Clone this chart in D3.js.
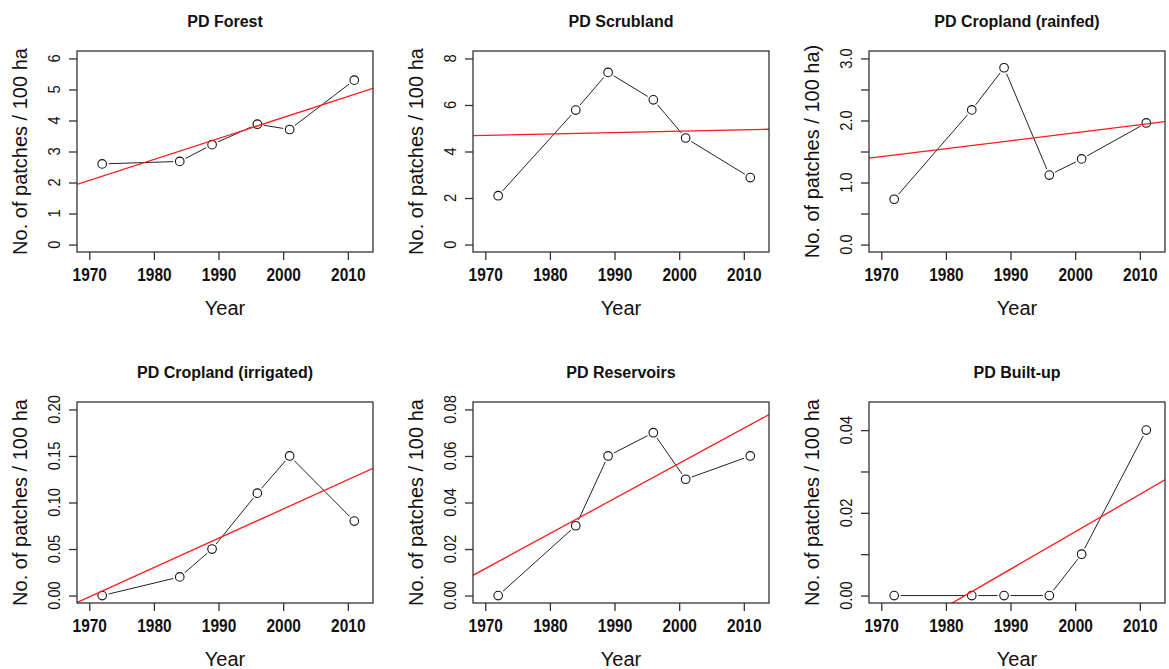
<!DOCTYPE html>
<html>
<head>
<meta charset="utf-8">
<script src="https://cdn.jsdelivr.net/npm/d3@7"></script>
<style>
  body { margin: 0; background: #fff; }
  svg { display: block; }
</style>
</head>
<body>
<div id="chart"></div>
<script>
const years = [1972, 1984, 1989, 1996, 2001, 2011];

const pdForest = [2.6, 2.68, 3.22, 3.88, 3.71, 5.3];
const pdScrubland = [2.1, 5.78, 7.4, 6.22, 4.58, 2.88];
const pdRainfed = [0.73, 2.17, 2.85, 1.12, 1.38, 1.96];
const pdIrrigated = [0.0, 0.02, 0.05, 0.11, 0.15, 0.08];
const pdReservoirs = [0.0, 0.03, 0.06, 0.07, 0.05, 0.06];
const pdBuiltUp = [0.0, 0.0, 0.0, 0.0, 0.01, 0.04];

const titles = ["PD Forest", "PD Scrubland", "PD Cropland (rainfed)",
                "PD Cropland (irrigated)", "PD Reservoirs", "PD Built-up"];
const yLabels = ["No. of patches / 100 ha", "No. of patches / 100 ha", "No. of patches / 100 ha)",
                 "No. of patches / 100 ha", "No. of patches / 100 ha", "No. of patches / 100 ha"];

const xTicks = [1970, 1980, 1990, 2000, 2010];
const xLim = [1969.8, 2012.2];

const yLims = [[0, 6], [0, 8], [0, 3], [0, 0.2], [0, 0.08], [0, 0.045]];
const yTicks = [
    [0, 1, 2, 3, 4, 5, 6],
    [0, 2, 4, 6, 8],
    [0, 0.5, 1, 1.5, 2, 2.5, 3],
    [0, 0.05, 0.1, 0.15, 0.2],
    [0, 0.02, 0.04, 0.06, 0.08],
    [0, 0.01, 0.02, 0.03, 0.04]
];
const yTickLabels = [
    ["0", "1", "2", "3", "4", "5", "6"],
    ["0", "2", "4", "6", "8"],
    ["0.0", "", "1.0", "", "2.0", "", "3.0"],
    ["0.00", "0.05", "0.10", "0.15", "0.20"],
    ["0.00", "0.02", "0.04", "0.06", "0.08"],
    ["0.00", "", "0.02", "", "0.04"]
];

const series = [pdForest, pdScrubland, pdRainfed, pdIrrigated, pdReservoirs, pdBuiltUp];

const width = 1169;
const height = 669;
const colLeft = [77, 473, 869];
const rowTop = [51, 402];
const boxW = 296;
const boxH = 201;
const font = "'Liberation Sans', Arial, Helvetica, sans-serif";

// R style 4% axis extension
const extend = lim => {
    const d = (lim[1] - lim[0]) * 0.04;
    return [lim[0] - d, lim[1] + d];
};

// least squares fit, like abline(lm(y ~ x))
const fit = (xs, ys) => {
    const mx = d3.mean(xs), my = d3.mean(ys);
    const sxy = d3.sum(xs, (x, i) => (x - mx) * (ys[i] - my));
    const sxx = d3.sum(xs, x => (x - mx) * (x - mx));
    const b = sxy / sxx;
    return { a: my - b * mx, b: b };
};

const svg = d3.select("#chart")
              .append("svg")
              .attr("width", width)
              .attr("height", height);

const defs = svg.append("defs");

series.forEach((values, i) => {
    const left = colLeft[i % 3];
    const top = rowTop[Math.floor(i / 3)];

    const x = d3.scaleLinear()
                .domain(extend(xLim))
                .range([left, left + boxW]);

    const y = d3.scaleLinear()
                .domain(extend(yLims[i]))
                .range([top + boxH, top]);

    const g = svg.append("g").attr("class", "panel-" + i);

    defs.append("clipPath")
        .attr("id", "clip-" + i)
        .append("rect")
        .attr("x", left)
        .attr("y", top)
        .attr("width", boxW)
        .attr("height", boxH);

    // title
    g.append("text")
     .attr("x", left + boxW / 2)
     .attr("y", top - 24)
     .attr("text-anchor", "middle")
     .style("font-family", font)
     .style("font-size", "16px")
     .style("font-weight", "bold")
     .attr("fill", "#111")
     .text(titles[i]);

    // x axis
    const xAxis = g.append("g")
                   .attr("transform", `translate(0,${top + boxH})`)
                   .call(d3.axisBottom(x).tickValues(xTicks).tickSize(8).tickFormat(d3.format("d")));

    xAxis.select(".domain").remove();
    xAxis.selectAll("line").attr("stroke", "#333").attr("stroke-width", 1.3);
    xAxis.selectAll("text")
         .attr("y", 29.5)
         .attr("dy", null)
         .attr("transform", "scale(0.86,1)")
         .style("font-family", font)
         .style("font-size", "18px")
         .style("font-weight", "bold")
         .attr("fill", "#111");

    // y axis
    const yAxis = g.append("g")
                   .attr("transform", `translate(${left},0)`)
                   .call(d3.axisLeft(y).tickValues(yTicks[i]).tickSize(8).tickFormat(""));

    yAxis.select(".domain").remove();
    yAxis.selectAll("line").attr("stroke", "#333").attr("stroke-width", 1.3);

    g.selectAll(".ylab")
     .data(yTicks[i])
     .enter()
     .append("text")
     .attr("class", "ylab")
     .attr("transform", d => `translate(${left - 17},${y(d)}) rotate(-90) scale(0.92,1)`)
     .attr("text-anchor", "middle")
     .style("font-family", font)
     .style("font-size", "16px")
     .attr("fill", "#111")
     .text((d, k) => yTickLabels[i][k]);

    // axis titles
    g.append("text")
     .attr("x", left + boxW / 2)
     .attr("y", top + boxH + 62.5)
     .attr("text-anchor", "middle")
     .style("font-family", font)
     .style("font-size", "20px")
     .attr("fill", "#111")
     .text("Year");

    g.append("text")
     .attr("transform", `translate(${left - 50.5},${top + boxH / 2}) rotate(-90)`)
     .attr("text-anchor", "middle")
     .style("font-family", font)
     .style("font-size", "20px")
     .attr("fill", "#111")
     .text(yLabels[i]);

    // data line with gaps at the points (type = "b")
    const pts = years.map((yr, k) => [x(yr), y(values[k])]);
    const gap = 6.5;
    const segs = d3.pairs(pts).map(([p, q]) => {
        const dx = q[0] - p[0], dy = q[1] - p[1];
        const len = Math.hypot(dx, dy);
        if (len <= gap * 2) return null;
        const ux = dx / len, uy = dy / len;
        return [p[0] + ux * gap, p[1] + uy * gap, q[0] - ux * gap, q[1] - uy * gap];
    }).filter(s => s);

    g.selectAll(".seg")
     .data(segs)
     .enter()
     .append("line")
     .attr("class", "seg")
     .attr("x1", d => d[0])
     .attr("y1", d => d[1])
     .attr("x2", d => d[2])
     .attr("y2", d => d[3])
     .attr("stroke", "#222")
     .attr("stroke-width", 1);

    g.selectAll("circle")
     .data(values)
     .enter()
     .append("circle")
     .attr("cx", (d, k) => x(years[k]))
     .attr("cy", d => y(d))
     .attr("r", 4.3)
     .attr("fill", "#fff")
     .attr("stroke", "#111")
     .attr("stroke-width", 1.1);

    // regression line
    const lm = fit(years, values);
    const xd = x.domain();
    g.append("line")
     .attr("clip-path", `url(#clip-${i})`)
     .attr("x1", x(xd[0]))
     .attr("y1", y(lm.a + lm.b * xd[0]))
     .attr("x2", x(xd[1]))
     .attr("y2", y(lm.a + lm.b * xd[1]))
     .attr("stroke", "#ff1a1a")
     .attr("stroke-width", 1.3);

    // plot box
    g.append("rect")
     .attr("x", left)
     .attr("y", top)
     .attr("width", boxW)
     .attr("height", boxH)
     .attr("fill", "none")
     .attr("stroke", "#333")
     .attr("stroke-width", 1.3);
});
</script>
</body>
</html>
